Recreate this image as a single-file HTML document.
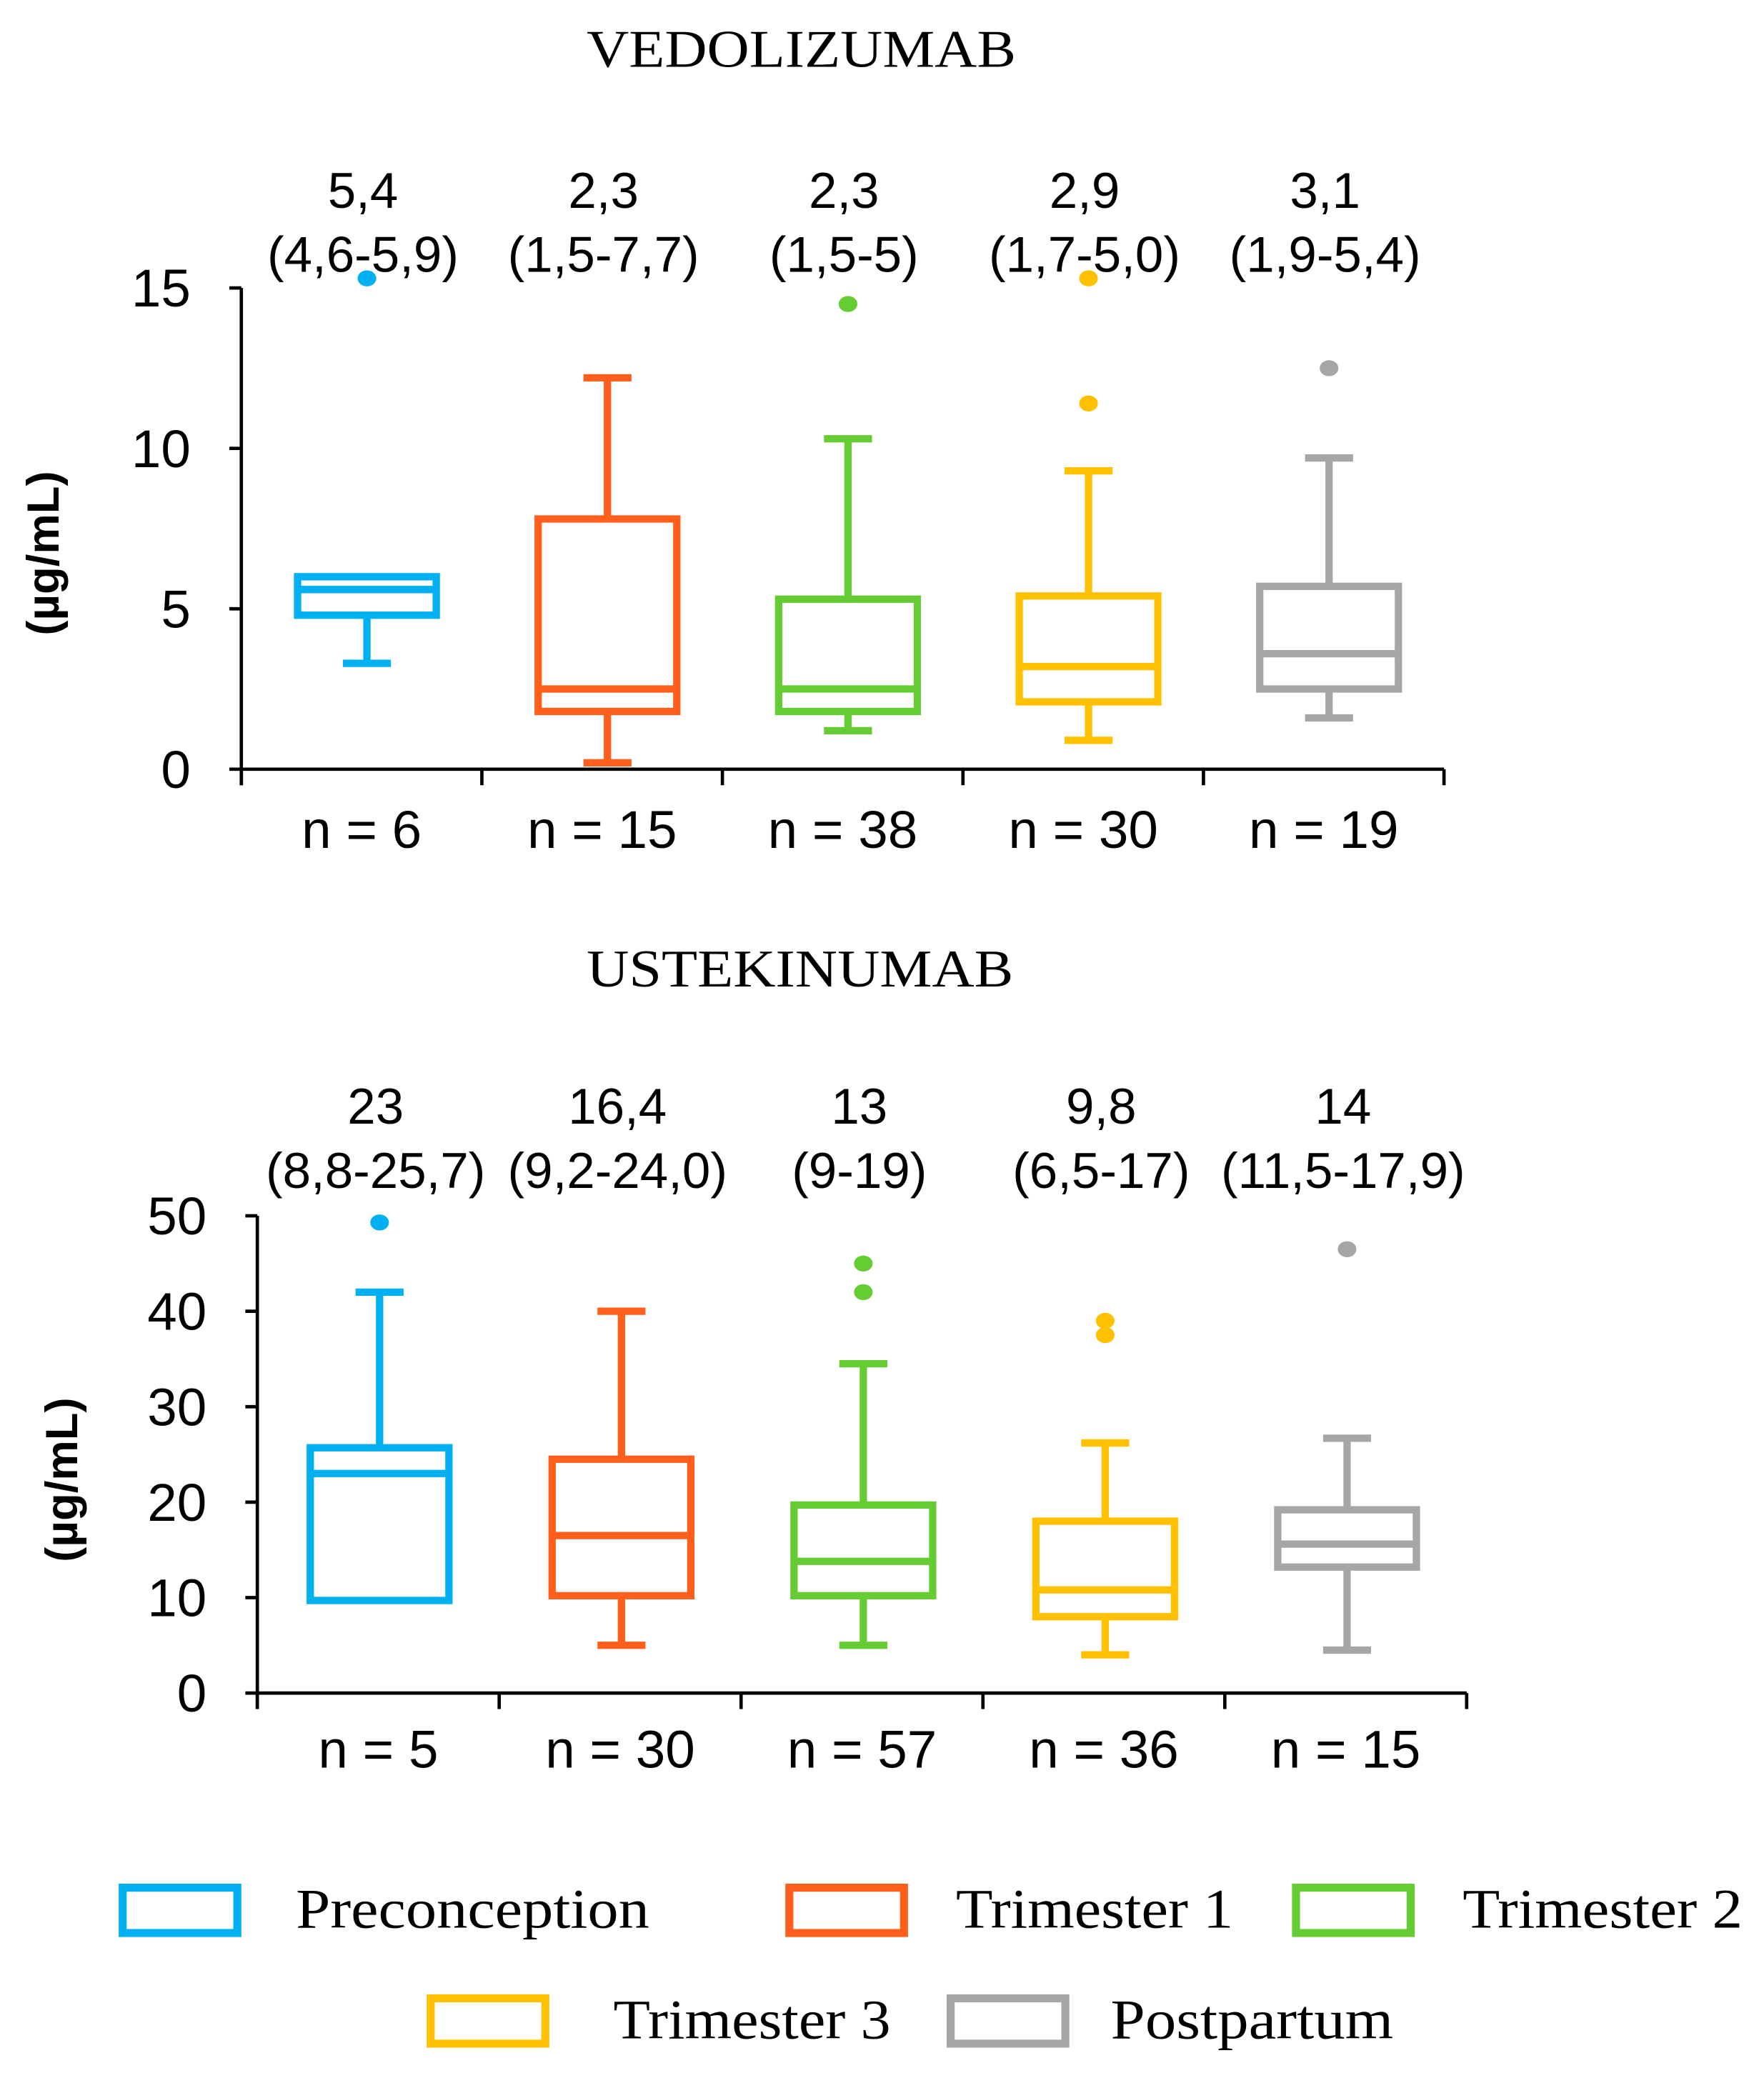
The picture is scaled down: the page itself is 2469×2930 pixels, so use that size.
<!DOCTYPE html>
<html><head><meta charset="utf-8"><style>
html,body{margin:0;padding:0;background:#fff;}
svg{display:block;}
</style></head><body>
<svg id="fig" width="2469" height="2930" viewBox="0 0 1323 1570" xmlns="http://www.w3.org/2000/svg">
<g id="top"></g>
<g id="bot"></g>
<g id="legend"></g>
</svg>
<script>
const colors = ["#00b0f0","#ff5f1a","#66cc33","#ffc000","#a6a6a6"];
const seriesNames = ["Preconception","Trimester 1","Trimester 2","Trimester 3","Postpartum"];
// Vedolizumab
const vedoLow = [3.3,0.2,1.2,0.9,1.6];
const vedoQ1 = [4.8,1.8,1.8,2.1,2.5];
const vedoMed = [5.6,2.5,2.5,3.2,3.6];
const vedoQ3 = [6.0,7.8,5.3,5.4,5.7];
const vedoHigh = [6.0,12.2,10.3,9.3,9.7];
const vedoOut = [[15.3],[],[14.5],[11.4,15.3],[12.5]];
const vedoTicks = [0,5,10,15];
const vedoMedLabels = ["5,4","2,3","2,3","2,9","3,1"];
const vedoRangeLabels = ["(4,6-5,9)","(1,5-7,7)","(1,5-5)","(1,7-5,0)","(1,9-5,4)"];
const vedoN = ["n = 6","n = 15","n = 38","n = 30","n = 19"];
// Ustekinumab
const usteLow = [9.7,5,5,4,4.5];
const usteQ1 = [9.7,10.2,10.2,8,13.2];
const usteMed = [23,16.5,13.8,10.8,15.6];
const usteQ3 = [25.7,24.5,19.7,18,19.2];
const usteHigh = [42,40,34.5,26.2,26.7];
const usteOut = [[49.3],[],[42,45],[37.5,39],[46.5]];
const usteTicks = [0,10,20,30,40,50];
const usteMedLabels = ["23","16,4","13","9,8","14"];
const usteRangeLabels = ["(8,8-25,7)","(9,2-24,0)","(9-19)","(6,5-17)","(11,5-17,9)"];
const usteN = ["n = 5","n = 30","n = 57","n = 36","n = 15"];

const NS="http://www.w3.org/2000/svg";
function mk(parent,tag,attrs,text){const e=document.createElementNS(NS,tag);for(const k in attrs)e.setAttribute(k,attrs[k]);if(text!==undefined)e.textContent=text;parent.appendChild(e);return e;}

function chart(g,cfg){
  const {x0,x1,yBase,yTop,max,title,titleX,titleW,titleY,lab1Y,lab2Y,nY,low,q1,med,q3,high,out,ticks,medL,rngL,nL,yLabX,yLabY,offs}=cfg;
  const yS=v=>yBase-(v/max)*(yBase-yTop);
  const bw=(x1-x0)/5;
  const cx=i=>x0+bw*(i+0.5)+offs;
  let t=mk(g,'text',{x:titleX-titleW/2,y:titleY,'font-family':'Liberation Serif, serif','font-size':40,textLength:titleW,lengthAdjust:'spacingAndGlyphs'},title);
  
  t=mk(g,'text',{transform:`translate(${yLabX},${yLabY}) rotate(-90)`,'font-family':'Liberation Sans, sans-serif','font-size':34,'font-weight':'bold','text-anchor':'middle'},'(µg/mL)');
  
  let a=mk(g,'line',{x1:x0,y1:yTop,x2:x0,y2:yBase+12,stroke:'#000','stroke-width':2.5});
  
  a=mk(g,'line',{x1:x0,y1:yBase,x2:x1,y2:yBase,stroke:'#000','stroke-width':2.5});
  
  for(let i=0;i<=5;i++){mk(g,'line',{x1:x0+bw*i,y1:yBase,x2:x0+bw*i,y2:yBase+12,stroke:'#000','stroke-width':2.5});}
  ticks.forEach(v=>{
    mk(g,'line',{x1:x0-9,y1:yS(v),x2:x0,y2:yS(v),stroke:'#000','stroke-width':2.5});
    const tl=mk(g,'text',{x:x0-38,y:yS(v)+14,'font-family':'Liberation Sans, sans-serif','font-size':40,'text-anchor':'end'},String(v));
    
  });
  for(let i=0;i<5;i++){
    const c=cx(i),col=colors[i],w=52;
    const bg=mk(g,'g',{stroke:col,'stroke-width':5.5,fill:'none'});
    
    
    if(high[i]>q3[i]){mk(bg,'line',{x1:c,y1:yS(q3[i]),x2:c,y2:yS(high[i])});mk(bg,'line',{x1:c-18,y1:yS(high[i]),x2:c+18,y2:yS(high[i])});}
    if(low[i]<q1[i]){mk(bg,'line',{x1:c,y1:yS(q1[i]),x2:c,y2:yS(low[i])});mk(bg,'line',{x1:c-18,y1:yS(low[i]),x2:c+18,y2:yS(low[i])});}
    mk(bg,'rect',{x:c-w,y:yS(q3[i]),width:2*w,height:yS(q1[i])-yS(q3[i]),fill:'#fff'});
    mk(bg,'line',{x1:c-w,y1:yS(med[i]),x2:c+w,y2:yS(med[i])});
    out[i].forEach(v=>{const o=mk(g,'ellipse',{cx:c,cy:yS(v),rx:7,ry:6,fill:col});
      });
    let l=mk(g,'text',{x:c-3,y:lab1Y,'font-family':'Liberation Sans, sans-serif','font-size':38,'text-anchor':'middle'},medL[i]);
    
    l=mk(g,'text',{x:c-3,y:lab2Y,'font-family':'Liberation Sans, sans-serif','font-size':38,'text-anchor':'middle'},rngL[i]);
    
    l=mk(g,'text',{x:x0+bw*(i+0.5),y:nY,'font-family':'Liberation Sans, sans-serif','font-size':40,'text-anchor':'middle'},nL[i]);
    
  }
}
chart(document.getElementById('top'),{x0:181,x1:1083,yBase:577,yTop:216,max:15,title:'VEDOLIZUMAB',titleX:601,titleW:322,titleY:50,lab1Y:156,lab2Y:204,nY:636,
  low:vedoLow,q1:vedoQ1,med:vedoMed,q3:vedoQ3,high:vedoHigh,out:vedoOut,ticks:vedoTicks,medL:vedoMedLabels,rngL:vedoRangeLabels,nL:vedoN,yLabX:44,yLabY:415,offs:4});
chart(document.getElementById('bot'),{x0:193,x1:1100,yBase:1270,yTop:912,max:50,title:'USTEKINUMAB',titleX:600,titleW:320,titleY:740,lab1Y:843,lab2Y:891,nY:1326,
  low:usteLow,q1:usteQ1,med:usteMed,q3:usteQ3,high:usteHigh,out:usteOut,ticks:usteTicks,medL:usteMedLabels,rngL:usteRangeLabels,nL:usteN,yLabX:58,yLabY:1110,offs:1});

const leg=document.getElementById('legend');
const legPos=[[92,1416,222,265],[592,1416,717,208],[972,1416,1097,210],[323,1499,460,208],[713,1499,833,212]];
for(let i=0;i<5;i++){
  const [bx,by,tx,tw]=legPos[i];
  const lg=mk(leg,'g',{});
  
  
  mk(lg,'rect',{x:bx,y:by,width:86,height:34,fill:'none',stroke:colors[i],'stroke-width':6});
  mk(lg,'text',{x:tx,y:by+30,'font-family':'Liberation Serif, serif','font-size':42,textLength:tw,lengthAdjust:'spacingAndGlyphs'},seriesNames[i]);
}
</script>
</body></html>
